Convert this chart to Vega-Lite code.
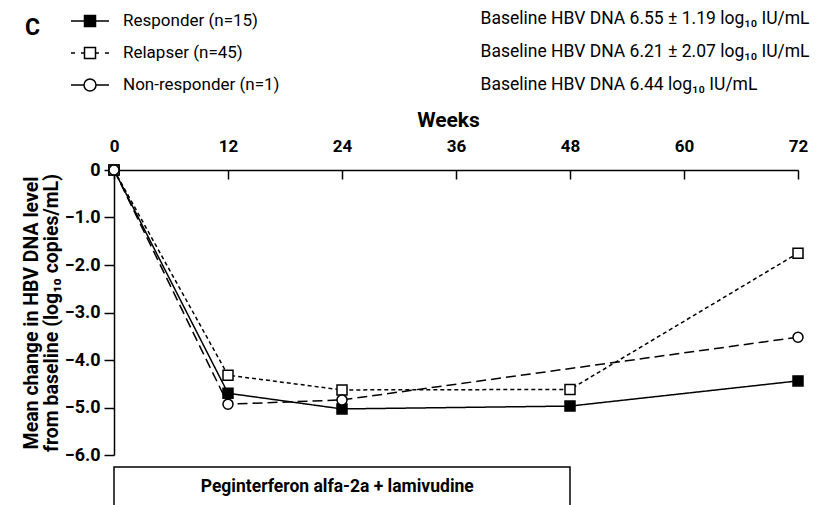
{
  "$schema": "https://vega.github.io/schema/vega-lite/v6.json",
  "width": 684,
  "height": 285,
  "autosize": {"type": "none"},
  "padding": {"left": 114, "top": 170, "right": 21, "bottom": 50},
  "background": "white",
  "config": {
    "font": "Roboto",
    "view": {"stroke": null},
    "axis": {"grid": false, "domainColor": "black", "tickColor": "black", "labelColor": "black", "titleColor": "black", "domainWidth": 1.5, "tickWidth": 1.5}
  },
  "title": {"text": "C", "anchor": "start", "frame": "group", "fontSize": 23, "fontWeight": "bold", "font": "Roboto", "color": "black", "dx": -89, "dy": 34},
  "datasets": {
    "series": [
      {"group": "Responder (n=15)", "baseline": "Baseline HBV DNA 6.55 ±  1.19 log₁₀ IU/mL", "week": 0, "change": 0},
      {"group": "Responder (n=15)", "baseline": "Baseline HBV DNA 6.55 ±  1.19 log₁₀ IU/mL", "week": 12, "change": -4.70},
      {"group": "Responder (n=15)", "baseline": "Baseline HBV DNA 6.55 ±  1.19 log₁₀ IU/mL", "week": 24, "change": -5.03},
      {"group": "Responder (n=15)", "baseline": "Baseline HBV DNA 6.55 ±  1.19 log₁₀ IU/mL", "week": 48, "change": -4.97},
      {"group": "Responder (n=15)", "baseline": "Baseline HBV DNA 6.55 ±  1.19 log₁₀ IU/mL", "week": 72, "change": -4.44},
      {"group": "Relapser (n=45)", "baseline": "Baseline HBV DNA 6.21 ±  2.07 log₁₀ IU/mL", "week": 0, "change": 0},
      {"group": "Relapser (n=45)", "baseline": "Baseline HBV DNA 6.21 ±  2.07 log₁₀ IU/mL", "week": 12, "change": -4.32},
      {"group": "Relapser (n=45)", "baseline": "Baseline HBV DNA 6.21 ±  2.07 log₁₀ IU/mL", "week": 24, "change": -4.63},
      {"group": "Relapser (n=45)", "baseline": "Baseline HBV DNA 6.21 ±  2.07 log₁₀ IU/mL", "week": 48, "change": -4.62},
      {"group": "Relapser (n=45)", "baseline": "Baseline HBV DNA 6.21 ±  2.07 log₁₀ IU/mL", "week": 72, "change": -1.75},
      {"group": "Non-responder (n=1)", "baseline": "Baseline HBV DNA 6.44 log₁₀ IU/mL", "week": 0, "change": 0},
      {"group": "Non-responder (n=1)", "baseline": "Baseline HBV DNA 6.44 log₁₀ IU/mL", "week": 12, "change": -4.93},
      {"group": "Non-responder (n=1)", "baseline": "Baseline HBV DNA 6.44 log₁₀ IU/mL", "week": 24, "change": -4.84},
      {"group": "Non-responder (n=1)", "baseline": "Baseline HBV DNA 6.44 log₁₀ IU/mL", "week": 72, "change": -3.52}
    ],
    "treatment": [
      {"period": "Peginterferon alfa-2a + lamivudine", "start": 0, "end": 48}
    ]
  },
  "resolve": {"scale": {"shape": "independent", "fill": "independent", "stroke": "independent"}, "legend": {"shape": "independent", "fill": "independent", "stroke": "independent"}},
  "layer": [
    {
      "data": {"name": "treatment"},
      "mark": {"type": "rect", "fill": "white", "stroke": "black", "strokeWidth": 1.5},
      "encoding": {
        "x": {"field": "start", "type": "quantitative", "scale": {"domain": [0, 72], "nice": false}},
        "x2": {"field": "end"},
        "y": {"datum": -6.253, "type": "quantitative", "scale": {"domain": [-6, 0], "nice": false, "zero": false}},
        "y2": {"datum": -7.6}
      }
    },
    {
      "data": {"name": "treatment"},
      "mark": {"type": "text", "fontWeight": "bold", "fontSize": 17.5, "color": "black", "baseline": "middle", "align": "center"},
      "encoding": {
        "x": {"datum": 23.5, "type": "quantitative"},
        "y": {"datum": -6.674, "type": "quantitative"},
        "text": {"field": "period"}
      }
    },
    {
      "data": {"name": "series"},
      "mark": {"type": "line", "color": "black", "strokeWidth": 1.5},
      "encoding": {
        "x": {"field": "week", "type": "quantitative", "scale": {"domain": [0, 72], "nice": false},
          "axis": {"orient": "top", "title": "Weeks", "values": [0, 12, 24, 36, 48, 60, 72], "labelFontSize": 17, "labelFontWeight": "bold", "labelFlush": false, "tickSize": -9, "labelPadding": 24, "titleFontSize": 21, "titleFontWeight": "bold", "titlePadding": 7, "titleX": 334}},
        "y": {"field": "change", "type": "quantitative", "scale": {"domain": [-6, 0], "nice": false, "zero": false},
          "axis": {"values": [0, -1, -2, -3, -4, -5, -6], "labelExpr": "datum.value == 0 ? '0' : format(datum.value, '.1f')", "labelFontSize": 18, "labelFontWeight": "bold", "tickSize": 10, "labelPadding": 4,
            "title": ["Mean change in HBV DNA level", "from baseline (log₁₀ copies/mL)"], "titleFontSize": 19.5, "titleFontWeight": "bold", "titleLineHeight": 20, "titlePadding": 3}},
        "strokeDash": {"field": "group", "type": "nominal", "scale": {"domain": ["Responder (n=15)", "Relapser (n=45)", "Non-responder (n=1)"], "range": [[1, 0], [4, 3], [10, 5]]}, "legend": null},
        "order": {"field": "week"}
      }
    },
    {
      "data": {"name": "series"},
      "mark": {"type": "point", "filled": true, "stroke": "black", "strokeWidth": 1.5, "size": 100, "opacity": 1},
      "encoding": {
        "x": {"field": "week", "type": "quantitative"},
        "y": {"field": "change", "type": "quantitative"},
        "shape": {"field": "group", "type": "nominal", "scale": {"domain": ["Responder (n=15)", "Relapser (n=45)", "Non-responder (n=1)"], "range": ["square", "square", "circle"]}, "legend": null},
        "fill": {"field": "group", "type": "nominal", "scale": {"domain": ["Responder (n=15)", "Relapser (n=45)", "Non-responder (n=1)"], "range": ["black", "white", "white"]}, "legend": null}
      }
    },
    {
      "data": {"name": "series"},
      "transform": [{"filter": "false"}],
      "mark": {"type": "point", "filled": true, "strokeWidth": 1.5, "opacity": 1},
      "encoding": {
        "x": {"field": "week", "type": "quantitative"},
        "y": {"field": "change", "type": "quantitative"},
        "shape": {"field": "group", "type": "nominal",
          "scale": {"domain": ["Responder (n=15)", "Relapser (n=45)", "Non-responder (n=1)"],
            "range": ["M-1.9,0H-0.55M0.55,0H1.9M-0.55,-0.55H0.55V0.55H-0.55Z",
                      "M-1.9,0H-1.5M-0.9,0H-0.55M0.55,0H0.9M1.5,0H1.9M-0.55,-0.55H0.55V0.55H-0.55Z",
                      "M-1.9,0H-0.6M0.6,0H1.9M-0.6,0A0.6,0.6,0,1,0,0.6,0A0.6,0.6,0,1,0,-0.6,0Z"]},
          "legend": {"orient": "none", "legendX": -35, "legendY": -160, "title": null, "symbolSize": 400, "symbolOpacity": 1, "labelOffset": 22, "rowPadding": 12, "labelFontSize": 17, "labelColor": "black", "labelLimit": 400, "symbolStrokeWidth": 1.5}},
        "fill": {"field": "group", "type": "nominal", "scale": {"domain": ["Responder (n=15)", "Relapser (n=45)", "Non-responder (n=1)"], "range": ["black", "white", "white"]},
          "legend": {"orient": "none", "legendX": -35, "legendY": -160, "title": null, "symbolSize": 400, "symbolOpacity": 1, "labelOffset": 22, "rowPadding": 12, "labelFontSize": 17, "labelColor": "black", "labelLimit": 400, "symbolStrokeWidth": 1.5}},
        "stroke": {"field": "group", "type": "nominal", "scale": {"domain": ["Responder (n=15)", "Relapser (n=45)", "Non-responder (n=1)"], "range": ["black", "black", "black"]},
          "legend": {"orient": "none", "legendX": -35, "legendY": -160, "title": null, "symbolSize": 400, "symbolOpacity": 1, "labelOffset": 22, "rowPadding": 12, "labelFontSize": 17, "labelColor": "black", "labelLimit": 400, "symbolStrokeWidth": 1.5}}
      }
    },
    {
      "data": {"name": "series"},
      "transform": [{"filter": "false"}],
      "mark": {"type": "point"},
      "encoding": {
        "x": {"field": "week", "type": "quantitative"},
        "y": {"field": "change", "type": "quantitative"},
        "stroke": {"field": "baseline", "type": "nominal",
          "scale": {"domain": ["Baseline HBV DNA 6.55 ±  1.19 log₁₀ IU/mL", "Baseline HBV DNA 6.21 ±  2.07 log₁₀ IU/mL", "Baseline HBV DNA 6.44 log₁₀ IU/mL"], "range": ["black", "black", "black"]},
          "legend": {"orient": "none", "legendX": 349, "legendY": -160, "title": null, "symbolSize": 0, "symbolOpacity": 0, "symbolStrokeWidth": 0, "labelOffset": 0, "rowPadding": 14, "labelFontSize": 17.5, "labelColor": "black", "labelLimit": 500}}
      }
    }
  ]
}
